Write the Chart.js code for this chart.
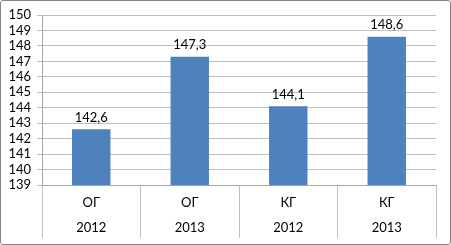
<!DOCTYPE html>
<html>
<head>
<meta charset="utf-8">
<script src="https://cdn.jsdelivr.net/npm/chart.js@4"></script>
<style>
  body { margin: 0; background: #fff; }
  #wrap { position: relative; width: 451px; height: 245px; }
  #frame {
    position: absolute; left: 0; top: 0; width: 449px; height: 243px;
    border: 1px solid #868686; border-radius: 3px; pointer-events: none;
  }
</style>
</head>
<body>
<div id="wrap">
  <canvas id="chart1" width="451" height="245"></canvas>
  <div id="frame"></div>
</div>
<script>
const groups = ['ОГ', 'ОГ', 'КГ', 'КГ'];
const years = ['2012', '2013', '2012', '2013'];
const values = [142.6, 147.3, 144.1, 148.6];

const labels = groups.map((g, i) => [g, years[i]]);

// value labels above the bars, with decimal comma
const barLabels = {
  id: 'barLabels',
  afterDatasetsDraw(chart) {
    const ctx = chart.ctx;
    const meta = chart.getDatasetMeta(0);
    ctx.save();
    ctx.font = '13px Lato';
    ctx.fillStyle = '#000';
    ctx.textAlign = 'center';
    ctx.textBaseline = 'bottom';
    meta.data.forEach((bar, i) => {
      ctx.fillText(values[i].toFixed(1).replace('.', ','), bar.x, bar.y - 5);
    });
    ctx.restore();
  }
};

const ctx = document.getElementById('chart1').getContext('2d');
new Chart(ctx, {
  type: 'bar',
  data: {
    labels: labels,
    datasets: [{
      data: values,
      backgroundColor: '#4F81BD',
      borderWidth: 0,
      barPercentage: 0.39,
      categoryPercentage: 1
    }]
  },
  options: {
    responsive: false,
    animation: false,
    layout: { padding: { top: 15, right: 15, left: 0, bottom: 0 } },
    plugins: { legend: { display: false }, tooltip: { enabled: false } },
    scales: {
      x: {
        afterFit(scale) { scale.height = 60; },
        grid: {
          offset: true,
          drawOnChartArea: false,
          drawTicks: true,
          tickLength: 53,
          color: '#BFBFBF'
        },
        border: { display: true, color: '#A6A6A6' },
        ticks: {
          padding: -47.5,
          color: '#000',
          font: { family: 'Lato', size: 13, lineHeight: 25 / 13 }
        }
      },
      y: {
        min: 139,
        max: 150,
        afterFit(scale) { scale.width = 42; },
        grid: { color: '#BFBFBF', tickLength: 5 },
        border: { display: true, color: '#A6A6A6' },
        ticks: {
          stepSize: 1,
          autoSkip: false,
          padding: 6,
          color: '#000',
          font: { family: 'Lato', size: 13 }
        }
      }
    }
  },
  plugins: [barLabels]
});
</script>
</body>
</html>
